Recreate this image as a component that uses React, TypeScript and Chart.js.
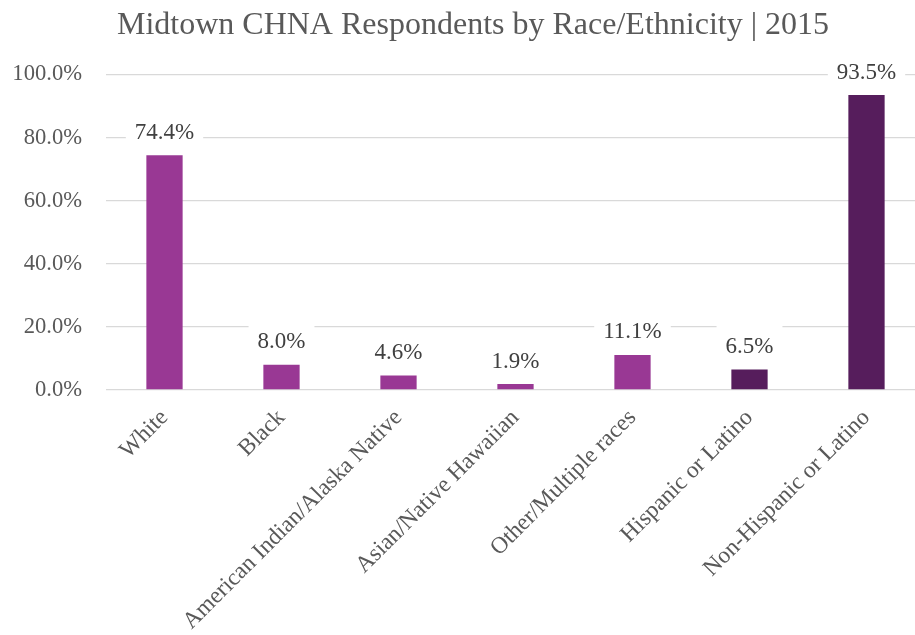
import React, { useEffect, useRef } from "react";
import { Chart, registerables } from "chart.js";

Chart.register(...registerables);

const TITLE = "Midtown CHNA Respondents by Race/Ethnicity | 2015";
const categories = [
  "White",
  "Black",
  "American Indian/Alaska Native",
  "Asian/Native Hawaiian",
  "Other/Multiple races",
  "Hispanic or Latino",
  "Non-Hispanic or Latino",
];
const values = [74.4, 8.0, 4.6, 1.9, 11.1, 6.5, 93.5];
const barColors = ["#993894", "#993894", "#993894", "#993894", "#993894", "#561d5c", "#561d5c"];
const yTicks = [0, 20, 40, 60, 80, 100];

const FONT = "'Liberation Serif', 'Times New Roman', serif";

const titlePlugin = {
  id: "customTitle",
  afterDraw(chart: any) {
    const ctx = chart.ctx;
    ctx.save();
    ctx.font = `32px ${FONT}`;
    ctx.fillStyle = "#595959";
    ctx.textAlign = "center";
    ctx.textBaseline = "alphabetic";
    ctx.fillText(TITLE, 473, 34);
    ctx.restore();
  },
};

const labelPlugin = {
  id: "dataLabels",
  afterDatasetsDraw(chart: any) {
    const ctx = chart.ctx;
    const meta = chart.getDatasetMeta(0);
    ctx.save();
    ctx.font = `23px ${FONT}`;
    meta.data.forEach((bar: any, i: number) => {
      const text = values[i].toFixed(1) + "%";
      const w = ctx.measureText(text).width;
      const baseline = bar.y - 16.5;
      ctx.fillStyle = "#ffffff";
      ctx.fillRect(bar.x - w / 2 - 9, baseline - 29, w + 18, 36);
      ctx.fillStyle = "#404040";
      ctx.textAlign = "center";
      ctx.textBaseline = "alphabetic";
      ctx.fillText(text, bar.x, baseline);
    });
    ctx.restore();
  },
};

export default function App() {
  const ref = useRef<HTMLCanvasElement>(null);
  useEffect(() => {
    if (!ref.current) return;
    const chart = new Chart(ref.current, {
      type: "bar",
      data: {
        labels: categories,
        datasets: [
          {
            data: values,
            backgroundColor: barColors,
            borderWidth: 0,
            categoryPercentage: 1,
            barPercentage: 0.31,
          },
        ],
      },
      options: {
        animation: false,
        responsive: false,
        devicePixelRatio: 1,
        layout: { padding: { top: 74.5, right: 20, left: 0, bottom: 0 } },
        plugins: {
          legend: { display: false },
          title: { display: false },
          tooltip: { enabled: false },
        },
        scales: {
          x: {
            grid: { display: false, drawTicks: false },
            border: { display: false },
            ticks: {
              autoSkip: false,
              maxRotation: 45,
              minRotation: 45,
              padding: 14,
              color: "#595959",
              font: { family: FONT, size: 23.5 },
            },
            afterFit(scale: any) {
              scale.height = 245;
            },
          },
          y: {
            min: 0,
            max: 100,
            afterBuildTicks(scale: any) {
              scale.ticks = yTicks.map((v) => ({ value: v }));
            },
            grid: { color: "#d9d9d9", lineWidth: 1.3, drawTicks: false },
            border: { display: false },
            ticks: {
              padding: 24,
              color: "#595959",
              font: { family: FONT, size: 22.6 },
              callback: (v: any) => Number(v).toFixed(1) + "%",
            },
            afterFit(scale: any) {
              scale.width = 106;
            },
          },
        },
      },
      plugins: [labelPlugin, titlePlugin],
    });
    return () => chart.destroy();
  }, []);
  return (
    <div style={{ position: "fixed", left: 0, top: 0, width: 915, height: 635, overflow: "hidden", background: "#fff" }}>
      <canvas ref={ref} width={945} height={635} style={{ display: "block" }} />
    </div>
  );
}
